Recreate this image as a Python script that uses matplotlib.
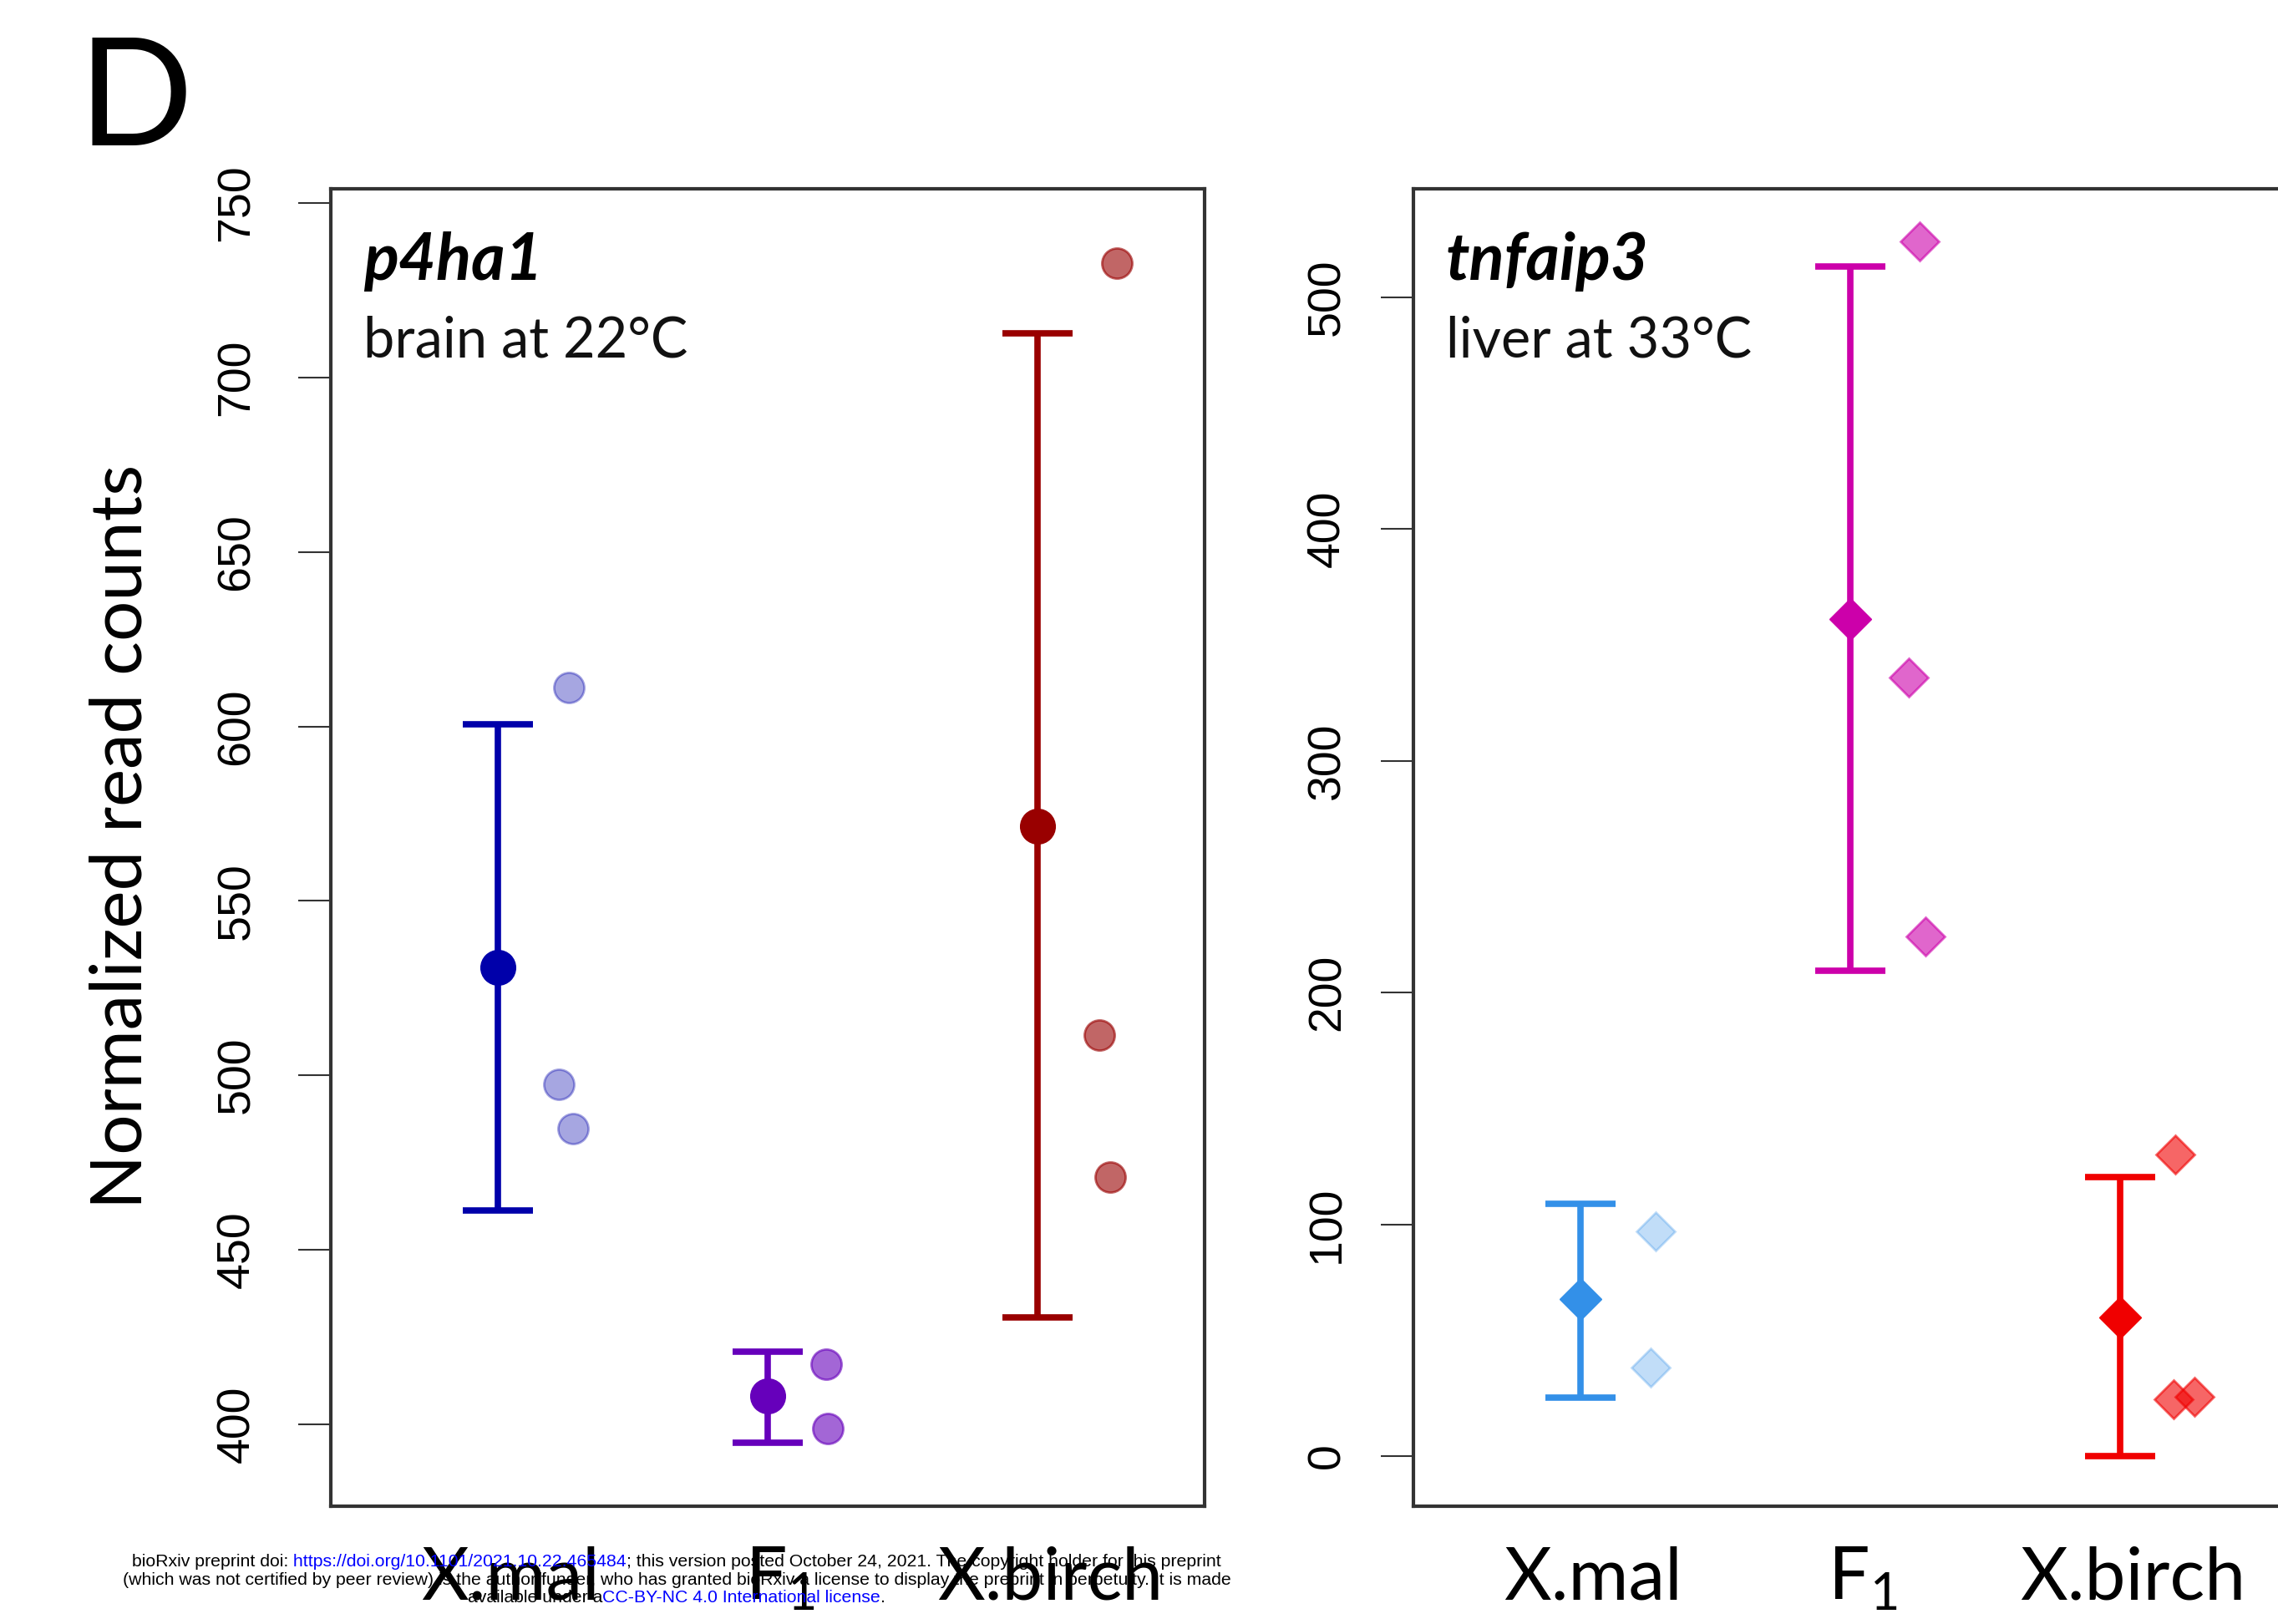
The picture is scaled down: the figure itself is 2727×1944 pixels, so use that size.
import matplotlib
matplotlib.use("Agg")
import matplotlib.pyplot as plt
import matplotlib.transforms as mtransforms

plt.rcParams['font.family'] = ['Lato', 'DejaVu Sans']
plt.rcParams['mathtext.fontset'] = 'custom'
plt.rcParams['mathtext.rm'] = 'Lato'
plt.rcParams['mathtext.it'] = 'Lato:italic'
plt.rcParams['mathtext.bf'] = 'Lato:bold'

groups = ["X.mal", r"F$_{\mathrm{1}}$", "X.birch"]
group_x = [1, 2, 3]

# p4ha1, brain at 22C
p4_mean = [531.0, 408.2, 571.5]
p4_upper = [600.5, 420.8, 712.6]
p4_lower = [461.3, 394.7, 430.6]
p4_points = [[611.1, 497.4, 484.7], [417.2, 398.8], [732.7, 511.5, 470.8]]
p4_jitter = [[0.263, 0.226, 0.278], [0.216, 0.223], [0.294, 0.229, 0.269]]

# tnfaip3, liver at 33C
tn_mean = [67.7, 361.1, 59.8]
tn_upper = [108.8, 513.2, 120.4]
tn_lower = [25.2, 209.4, 0.0]
tn_points = [[96.9, 38.2], [524.0, 335.9, 224.1], [130.1, 24.5, 25.6]]
tn_jitter = [[0.278, 0.26], [0.257, 0.216, 0.278], [0.204, 0.198, 0.275]]

p4_colors = ["#0000AA", "#6600BB", "#990000"]
p4_alpha = [0.35, 0.6, 0.6]
tn_colors = ["#3390E8", "#CC00AA", "#F00000"]
tn_alpha = [0.3, 0.6, 0.6]

W, H = 2727, 1944
fig = plt.figure(figsize=(W / 100, H / 100), dpi=100)


def draw_panel(ax, means, upper, lower, points, jitter, colors, alphas,
               marker, msize, psize, gene, tissue, ylim, yticks, ypad):
    for i, x in enumerate(group_x):
        ax.errorbar(x, means[i], yerr=[[means[i] - lower[i]], [upper[i] - means[i]]],
                    fmt='none', ecolor=colors[i], elinewidth=5.5, capsize=30,
                    capthick=5.5, zorder=2)
        ax.plot(x, means[i], marker=marker, ms=msize, color=colors[i],
                mec=colors[i], ls='none', zorder=3)
        ax.plot([x + j for j in jitter[i]], points[i], marker=marker, ms=psize,
                color=colors[i], mec=colors[i], mew=2, alpha=alphas[i],
                ls='none', zorder=3)
    ax.set_xlim(0.38, 3.62)
    ax.set_ylim(*ylim)
    ax.set_yticks(yticks)
    ax.set_xticks(group_x)
    ax.set_xticklabels(groups, fontsize=63)
    ax.tick_params(axis='x', length=0, pad=34)
    ax.tick_params(axis='y', length=28, width=1.5, color='#333333', pad=ypad,
                   labelrotation=90, labelsize=40)
    for lab in ax.get_yticklabels():
        lab.set_va('center')
        lab.set_family(['Liberation Sans', 'DejaVu Sans'])
    offset = mtransforms.ScaledTranslation(0.15, 0, fig.dpi_scale_trans)
    for lab in ax.get_xticklabels():
        lab.set_transform(lab.get_transform() + offset)
    for sp in ax.spines.values():
        sp.set_linewidth(3)
        sp.set_color('#333333')
    ax.text(0.037, 1 - 109 / 1577, gene, transform=ax.transAxes, fontsize=56,
            fontweight='bold', fontstyle='italic', va='baseline', ha='left')
    ax.text(0.037, 1 - 202 / 1577, tissue, transform=ax.transAxes, fontsize=48,
            va='baseline', ha='left', color='#111111')


ax1 = fig.add_axes([396 / W, 1 - 1803 / H, 1046 / W, 1577 / H])
draw_panel(ax1, p4_mean, p4_upper, p4_lower, p4_points, p4_jitter, p4_colors,
           p4_alpha, 'o', 30, 26, 'p4ha1', 'brain at 22°C', (376.5, 754.1),
           [400, 450, 500, 550, 600, 650, 700, 750], 34)

ax2 = fig.add_axes([1692 / W, 1 - 1803 / H, 1046 / W, 1577 / H])
draw_panel(ax2, tn_mean, tn_upper, tn_lower, tn_points, tn_jitter, tn_colors,
           tn_alpha, 'D', 25, 23, 'tnfaip3', 'liver at 33°C', (-21.6, 546.7),
           [0, 100, 200, 300, 400, 500], 27)

fig.text(146 / W, 1 - 1001 / H, "Normalized read counts", rotation=90,
         fontsize=61.5, ha='center', va='center')
fig.text(94 / W, 1 - 174 / H, "D", fontsize=130, ha='left', va='baseline')

# bioRxiv footer, drawn on top
footer = [
    [("bioRxiv preprint doi:", "black"),
     (" https://doi.org/10.1101/2021.10.22.465484", "#0000FF"),
     ("; this version posted October 24, 2021. The copyright holder for this preprint", "black")],
    [("(which was not certified by peer review) is the author/funder, who has granted bioRxiv a license to display the preprint in perpetuity. It is made", "black")],
    [("available under a", "black"),
     ("CC-BY-NC 4.0 International license", "#0000FF"),
     (".", "black")],
]
footer_base = [1875, 1897, 1918]
renderer = fig.canvas.get_renderer()
for line, yb in zip(footer, footer_base):
    texts = []
    for s, c in line:
        t = fig.text(0, 1 - yb / H, s, color=c, fontsize=15.3, ha='left',
                     va='baseline', family=['Liberation Sans', 'DejaVu Sans'],
                     zorder=10)
        texts.append(t)
    widths = [t.get_window_extent(renderer).width / fig.bbox.width for t in texts]
    x = 810 / W - sum(widths) / 2
    for t, w in zip(texts, widths):
        t.set_x(x)
        x += w

fig.savefig("out.png", dpi=100)
